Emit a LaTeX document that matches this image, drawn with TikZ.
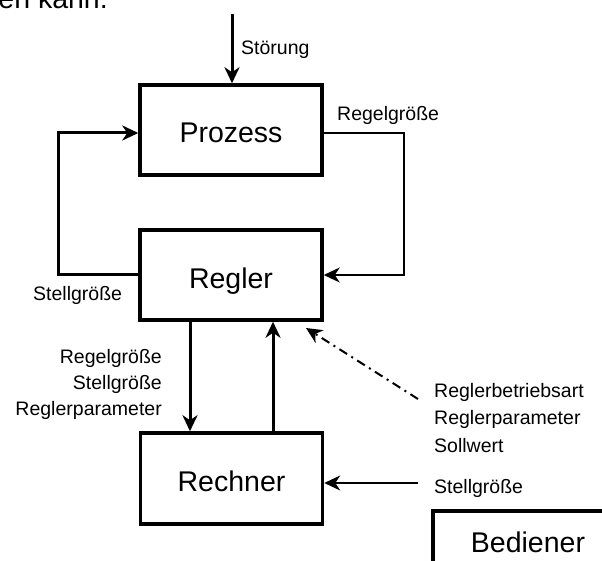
\documentclass[tikz,border=0pt]{standalone}
\usepackage{fontspec}
\setmainfont{Liberation Sans}
\usetikzlibrary{arrows.meta}
\begin{document}
\begin{tikzpicture}[x=1pt,y=-1pt,
  blk/.style={draw, line width=3.5pt, minimum width=182pt, minimum height=90pt, inner sep=0pt,
    text height=26pt, text depth=0pt, font=\fontsize{28.5}{34}\selectfont},
  lbl/.style={inner sep=0pt, font=\fontsize{19.5}{23}\selectfont},
  tip/.style={-{Stealth[length=16pt,width=15pt,inset=5pt]}},
  thickline/.style={line width=3pt},
  thinline/.style={line width=2pt},
  dashdot/.style={dash pattern=on 9pt off 5pt on 2pt off 5pt},
]
\useasboundingbox (0,0) rectangle (602,561);
\fill[white] (0,0) rectangle (602,561);

% cut-off sentence at the top
\node[anchor=base east, inner sep=0pt, font=\fontsize{28.5}{34}\selectfont] (satz) at (108,9) {en kann.};

% blocks
\node[blk] (proz) at (231,130) {Prozess};
\node[blk] (regl) at (231,275) {Regler};
\node[blk, minimum height=91pt] (rech) at (231.5,478.5) {Rechner};
\node[blk, minimum width=190pt, minimum height=56pt] (bed) at (528,539) {Bediener};

% Störung
\coordinate (stoer) at (232,14);
\draw[thickline,tip] (stoer) -- (stoer |- proz.north);
\node[lbl, anchor=base west] (tStoer) at (241,55) {Störung};

% Regelgröße feedback
\coordinate (rgC) at (404,133);
\draw[thinline,tip] ([yshift=-3pt]proz.east) -- (rgC) |- (regl.east);
\node[lbl, anchor=base west] (tRg) at (337,121) {Regelgröße};

% Stellgröße loop
\coordinate (sgC) at (58,275);
\draw[thickline,tip] (regl.west) -- (sgC) |- ([yshift=-3pt]proz.west);
\node[lbl, anchor=base west] (tSg) at (33,300) {Stellgröße};

% Regler <-> Rechner
\draw[thickline,tip] ([xshift=-41pt]regl.south) -- ([xshift=-41.5pt]rech.north);
\draw[thickline,tip] ([xshift=41.5pt]rech.north) -- ([xshift=42pt]regl.south);
\node[lbl, anchor=base east] (tL1) at (162,363) {Regelgröße};
\node[lbl, anchor=base east] (tL2) at (162,389) {Stellgröße};
\node[lbl, anchor=base east] (tL3) at (162,415) {Reglerparameter};

% Bediener -> Regler (dash-dot)
\coordinate (ddS) at (418,399);
\coordinate (ddE) at (306,328);
\draw[thinline,dashdot,tip] (ddS) -- (ddE);
\node[lbl, anchor=base west] (tR1) at (434,397) {Reglerbetriebsart};
\node[lbl, anchor=base west] (tR2) at (434,424.5) {Reglerparameter};
\node[lbl, anchor=base west] (tR3) at (434,452) {Sollwert};

% Bediener -> Rechner
\coordinate (sgS) at (418,483);
\draw[thinline,tip] (sgS) -- (sgS -| rech.east);
\node[lbl, anchor=base west] (tR4) at (434,493) {Stellgröße};
\end{tikzpicture}
\end{document}
